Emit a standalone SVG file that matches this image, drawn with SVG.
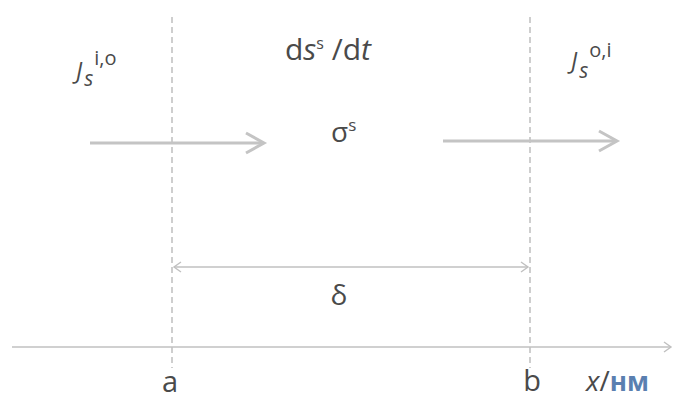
<svg xmlns="http://www.w3.org/2000/svg" width="675" height="403" viewBox="0 0 675 403">
<style>
.dash{stroke:#b4b4b4;stroke-width:1.3;stroke-dasharray:6 4;fill:none}
.flow{stroke:#c4c4c4;stroke-width:3;fill:none}
.thin{stroke:#c0c0c0;stroke-width:1.4;fill:none}
.t{font-family:"Open Sans","Liberation Sans",sans-serif;fill:#4a4a4a}
.it{font-style:italic}
</style>
<rect width="675" height="403" fill="#ffffff"/>
<g id="connectors">
<line class="dash" x1="172" y1="17" x2="172" y2="368"/>
<line class="dash" x1="530" y1="17" x2="530" y2="368"/>
<line class="flow" x1="90" y1="143" x2="263" y2="143"/>
<polyline class="flow" points="246,133 264,143 246,153"/>
<line class="flow" x1="443" y1="141" x2="616" y2="141"/>
<polyline class="flow" points="599,131 617,141 599,151"/>
<line class="thin" x1="174" y1="267" x2="528" y2="267"/>
<polyline class="thin" points="181,262 174,267 181,272"/>
<polyline class="thin" points="521,262 528,267 521,272"/>
<line class="thin" x1="12" y1="347" x2="671" y2="347"/>
<polyline class="thin" points="664,342 671,347 664,352"/>
</g>
<g id="J_in">
<text class="t" x="76" y="79" font-size="23"><tspan class="it">J</tspan><tspan class="it" font-size="21" dx="2" dy="7">s</tspan><tspan font-size="20" dx="1" dy="-21">i,o</tspan></text>
</g>
<g id="dsdt">
<text class="t" x="285" y="60" font-size="30">d<tspan class="it">s</tspan><tspan font-size="16" dy="-11">s</tspan><tspan dy="11"> /d</tspan><tspan class="it">t</tspan></text>
</g>
<g id="sigma">
<text class="t" x="331" y="142" font-size="28">σ<tspan font-size="17" dy="-11">s</tspan></text>
</g>
<g id="J_out">
<text class="t" x="571" y="69" font-size="23"><tspan class="it">J</tspan><tspan class="it" font-size="21" dx="2" dy="9">s</tspan><tspan font-size="20" dx="1" dy="-21">o,i</tspan></text>
</g>
<g id="delta">
<text class="t" x="339" y="305" font-size="28" text-anchor="middle">δ</text>
</g>
<g id="label_a">
<text class="t" x="170" y="392" font-size="29" text-anchor="middle">a</text>
</g>
<g id="label_b">
<text class="t" x="532" y="391" font-size="29" text-anchor="middle">b</text>
</g>
<g id="axis_label">
<text class="t" x="586" y="391" font-size="28"><tspan class="it">x</tspan>/<tspan fill="#5a7fb0" font-size="26" font-weight="bold">нм</tspan></text>
</g>
</svg>
